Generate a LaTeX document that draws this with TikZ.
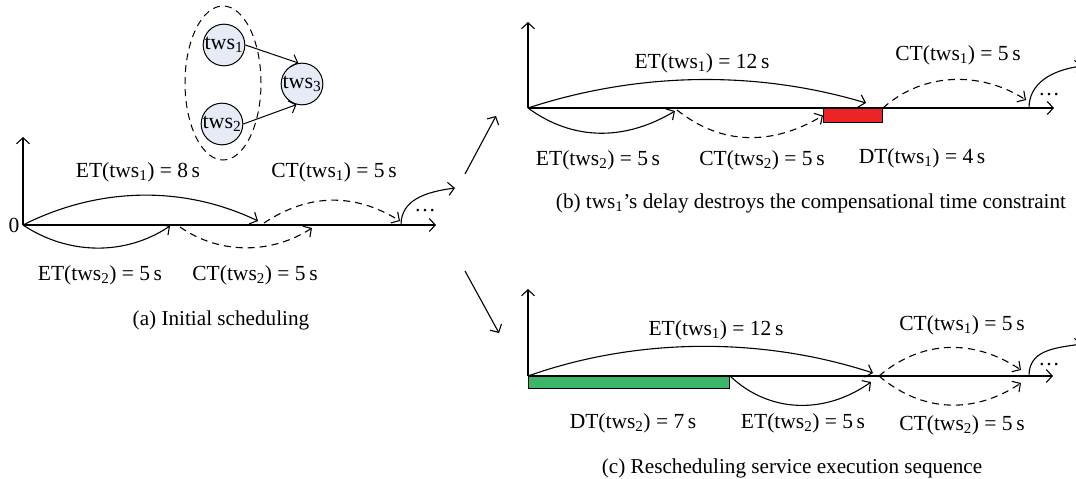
\documentclass[tikz,border=0pt]{standalone}
\usepackage{fontspec}
\setmainfont{Liberation Serif}
\usetikzlibrary{arrows.meta, shapes.geometric}
\definecolor{twsblue}{RGB}{230, 235, 245}
\definecolor{delayred}{RGB}{237, 36, 38}
\definecolor{delaygreen}{RGB}{61, 182, 106}
\tikzset{
  lbl/.style={font=\fontsize{21.5}{25}\selectfont, inner sep=0pt},
  capt/.style={font=\fontsize{21.2}{25}\selectfont, inner sep=0pt},
  tws/.style={circle, draw, fill=twsblue, line width=1pt, minimum size=39pt, inner sep=0pt, font=\fontsize{22}{25}\selectfont},
  axis/.style={line width=1.1pt, -{Straight Barb[length=6pt,width=13pt]}},
  jump/.style={line width=1.1pt, -{Straight Barb[length=6pt,width=13pt]}},
  comp/.style={jump, dash pattern=on 7pt off 5pt},
  delaybox/.style={draw, line width=1pt, inner sep=0pt, anchor=north west},
}

\begin{document}
\begin{tikzpicture}[x=1pt, y=-1pt]
            \useasboundingbox (0,0) rectangle (1076,479);

            % service graph
            \node[ellipse, draw, line width=1pt, dash pattern=on 7pt off 5pt, minimum width=76pt, minimum height=154pt] (grp) at (223,83) {};
            \node[tws] (tws1) at (224,45) {tws\textsubscript{1}};
            \node[tws] (tws2) at (222,124) {tws\textsubscript{2}};
            \node[tws] (tws3) at (302,84) {tws\textsubscript{3}};
            \draw[jump, line width=1pt] (tws1.east) -- (tws3.100);
            \draw[jump, line width=1pt] (tws2.east) -- (tws3.255);

            % (a) initial scheduling
            \coordinate (a0) at (23,225);
            \coordinate (aT) at (436,225);
            \coordinate (aV) at (23,137);
            \coordinate (a1) at (258,221);
            \coordinate (a2) at (264,223);
            \coordinate (a3) at (400,221);
            \coordinate (a4) at (170,226);
            \coordinate (a5) at (180,227);
            \coordinate (a6) at (312,228);
            \coordinate (a7) at (401,225);
            \coordinate (a8) at (455,188);
            \draw[axis] (a0) -- (aT);
            \draw[axis] (a0) -- (aV);
            \node[lbl] (zero) at (14,225) {0};
            \draw[jump] (a0) .. controls +(75,-38) and +(-75,-36) .. (a1);
            \draw[comp] (a2) .. controls +(45,-30) and +(-45,-28) .. (a3);
            \draw[jump] (a0) .. controls +(45,30) and +(-45,30) .. (a4);
            \draw[comp] (a5) .. controls +(40,28) and +(-40,26) .. (a6);
            \draw[jump] (a7) .. controls +(0,-25) and +(-30,4) .. (a8);
            \node[lbl] (dotsa) at (425,211) {\dots};
            \node[lbl] (eta1) at (138,172) {ET(tws\textsubscript{1}) = 8\,s};
            \node[lbl] (cta1) at (334,172) {CT(tws\textsubscript{1}) = 5\,s};
            \node[lbl] (eta2) at (100,275) {ET(tws\textsubscript{2}) = 5\,s};
            \node[lbl] (cta2) at (255,275) {CT(tws\textsubscript{2}) = 5\,s};
            \node[capt] (capa) at (221,320) {(a) Initial scheduling};

            % arrows to (b) and (c)
            \coordinate (m1) at (465,174);
            \coordinate (m2) at (496,116);
            \coordinate (m3) at (465,271);
            \coordinate (m4) at (499,333);
            \draw[jump] (m1) -- (m2);
            \draw[jump] (m3) -- (m4);

            % (b) delay of tws1
            \coordinate (b0) at (528,108);
            \coordinate (bT) at (1054,108);
            \coordinate (bV) at (528,22);
            \coordinate (b1) at (866,103);
            \coordinate (b2) at (675,111);
            \coordinate (b3) at (677,110);
            \coordinate (b4) at (1026,100);
            \coordinate (b5) at (1029,108);
            \coordinate (b6) at (1082,66);
            \node[delaybox, fill=delayred, minimum width=59pt, minimum height=14pt] (dl1) at (823,108) {};
            \draw[axis] (b0) -- (bT);
            \draw[axis] (b0) -- (bV);
            \draw[jump] (b0) .. controls +(110,-36) and +(-110,-33) .. (b1);
            \draw[jump] (b0) .. controls +(45,33) and +(-50,30) .. (b2);
            \draw[comp] (b3) .. controls +(45,36) and +(-50,30) .. (dl1.west);
            \draw[comp] (dl1.north east) .. controls +(40,-36) and +(-45,-29) .. (b4);
            \draw[jump] (b5) .. controls +(0,-25) and +(-30,4) .. (b6);
            \node[lbl] (dotsb) at (1049,95) {\dots};
            \node[lbl] (etb1) at (702,63) {ET(tws\textsubscript{1}) = 12\,s};
            \node[lbl] (ctb1) at (958,55) {CT(tws\textsubscript{1}) = 5\,s};
            \node[lbl] (etb2) at (598,160) {ET(tws\textsubscript{2}) = 5\,s};
            \node[lbl] (ctb2) at (762,160) {CT(tws\textsubscript{2}) = 5\,s};
            \node[lbl] (dtb1) at (922,158) {DT(tws\textsubscript{1}) = 4\,s};
            \node[capt] (capb) at (811,203) {(b) tws\textsubscript{1}’s delay destroys the compensational time constraint};

            % (c) rescheduling
            \coordinate (c0) at (528,376);
            \coordinate (cT) at (1053,376);
            \coordinate (cV) at (528,289);
            \coordinate (c1) at (873,373);
            \coordinate (c2) at (871,382);
            \coordinate (c3) at (879,376);
            \coordinate (c4) at (1021,370);
            \coordinate (c5) at (1021,383);
            \coordinate (c6) at (1029,376);
            \coordinate (c7) at (1082,344);
            \node[delaybox, fill=delaygreen, minimum width=201pt, minimum height=12pt] (dl2) at (528,376) {};
            \draw[axis] (c0) -- (cT);
            \draw[axis] (c0) -- (cV);
            \draw[jump] (c0) .. controls +(110,-39) and +(-110,-36) .. (c1);
            \draw[jump] (dl2.north east) .. controls +(40,38) and +(-45,32) .. (c2);
            \draw[comp] (c3) .. controls +(45,-38) and +(-45,-30) .. (c4);
            \draw[comp] (c3) .. controls +(45,38) and +(-45,30) .. (c5);
            \draw[jump] (c6) .. controls +(0,-25) and +(-30,4) .. (c7);
            \node[lbl] (dotsc) at (1049,365) {\dots};
            \node[lbl] (etc1) at (716,330) {ET(tws\textsubscript{1}) = 12\,s};
            \node[lbl] (ctc1) at (962,325) {CT(tws\textsubscript{1}) = 5\,s};
            \node[lbl] (dtc2) at (633,423) {DT(tws\textsubscript{2}) = 7\,s};
            \node[lbl] (etc2) at (803,423) {ET(tws\textsubscript{2}) = 5\,s};
            \node[lbl] (ctc2) at (962,425) {CT(tws\textsubscript{2}) = 5\,s};
            \node[capt] (capc) at (792,468) {(c) Rescheduling service execution sequence};
\end{tikzpicture}
\end{document}
